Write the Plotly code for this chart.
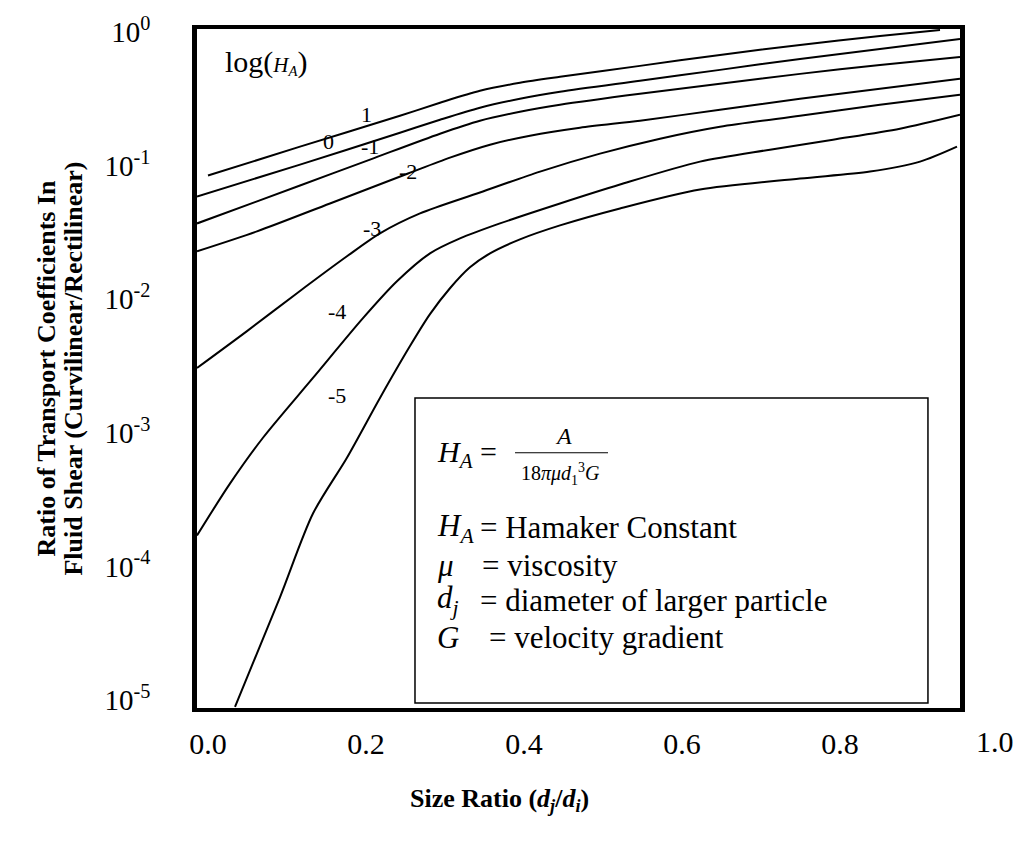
import plotly.graph_objects as go

# ---------------- data ----------------
x_ticks = [0.0, 0.2, 0.4, 0.6, 0.8]
x_tick_labels = ["0.0", "0.2", "0.4", "0.6", "0.8"]
y_ticks = [1, 1e-1, 1e-2, 1e-3, 1e-4, 1e-5]
y_tick_labels = ["10<sup>0</sup>", "10<sup>-1</sup>", "10<sup>-2</sup>",
                 "10<sup>-3</sup>", "10<sup>-4</sup>", "10<sup>-5</sup>"]

# log(H_A) = 1
x_p1 = [0.0, 0.1165, 0.2430, 0.2937, 0.3443, 0.3949, 0.4456, 0.5468, 0.6481, 0.7494, 0.8506, 0.9266]
y_p1 = [0.0842, 0.1386, 0.2361, 0.2952, 0.3628, 0.4164, 0.4615, 0.5576, 0.6737, 0.7997, 0.9336, 1.035]
# log(H_A) = 0
x_0 = [-0.0139, 0.1165, 0.2430, 0.2937, 0.3443, 0.3949, 0.4456, 0.5468, 0.6481, 0.7494, 0.8506, 0.9519]
y_0 = [0.0587, 0.1017, 0.1763, 0.2204, 0.2710, 0.3162, 0.3566, 0.4309, 0.5206, 0.6288, 0.7465, 0.8866]
# log(H_A) = -1
x_m1 = [-0.0139, 0.1165, 0.2051, 0.2937, 0.3443, 0.3949, 0.4456, 0.5468, 0.6481, 0.7494, 0.8506, 0.9519]
y_m1 = [0.0369, 0.0709, 0.1109, 0.1733, 0.2167, 0.2529, 0.2852, 0.3446, 0.4091, 0.4859, 0.5672, 0.6508]
# log(H_A) = -2
x_m2 = [-0.0139, 0.0620, 0.1544, 0.2532, 0.3063, 0.3570, 0.4076, 0.4709, 0.5468, 0.6481, 0.7494,
        0.8506, 0.9519]
y_m2 = [0.02282, 0.03217, 0.05205, 0.0872, 0.1147, 0.1434, 0.1674, 0.1921, 0.2167, 0.2618, 0.3162,
        0.3754, 0.4459]
# log(H_A) = -3
x_m3 = [-0.0139, 0.0494, 0.1127, 0.1759, 0.2177, 0.2684, 0.3443, 0.4203, 0.4962, 0.5722, 0.6481,
        0.7494, 0.8506, 0.9519]
y_m3 = [0.003055, 0.005770, 0.01109, 0.02094, 0.03109, 0.04384, 0.06288, 0.0902, 0.1229, 0.1591,
        0.1954, 0.2361, 0.2852, 0.3388]
# log(H_A) = -4
x_m4 = [-0.0139, 0.0278, 0.0696, 0.1329, 0.1962, 0.2392, 0.2810, 0.3190, 0.3696, 0.4456, 0.5215,
        0.6228, 0.7114, 0.7911, 0.8759, 0.9519]
y_m4 = [0.0001703, 0.0004164, 0.000918, 0.002573, 0.007213, 0.01362, 0.02204, 0.02852, 0.03692,
        0.05205, 0.07214, 0.1071, 0.1316, 0.1563, 0.1888, 0.2402]
# log(H_A) = -5
x_m5 = [0.0342, 0.0911, 0.1329, 0.1759, 0.2177, 0.2557, 0.2810, 0.3063, 0.3316, 0.3570, 0.3949,
        0.4456, 0.5215, 0.6228, 0.7494, 0.8380, 0.9013, 0.9481]
y_m5 = [8.87e-6, 5.87e-5, 0.0002486, 0.000651, 0.001824, 0.004459, 0.007728, 0.01208, 0.01733,
        0.02204, 0.02804, 0.03566, 0.04776, 0.06621, 0.07997, 0.0902, 0.1071, 0.1386]

curve_names = ["1", "0", "-1", "-2", "-3", "-4", "-5"]
curve_x = [x_p1, x_0, x_m1, x_m2, x_m3, x_m4, x_m5]
curve_y = [y_p1, y_0, y_m1, y_m2, y_m3, y_m4, y_m5]

SERIF = "Liberation Serif, Times New Roman, serif"

fig = go.Figure()
for name, xs, ys in zip(curve_names, curve_x, curve_y):
    fig.add_trace(go.Scatter(
        x=xs, y=ys, mode="lines", name=name,
        line=dict(color="black", width=2, shape="spline", smoothing=0.8),
        showlegend=False, hoverinfo="skip"))

annotations = []

def ann(text, x, y, size, xanchor="center", yanchor="middle", **kw):
    d = dict(text=text, x=x, y=y, xref="paper", yref="paper", showarrow=False,
             font=dict(family=SERIF, size=size, color="black"),
             xanchor=xanchor, yanchor=yanchor)
    d.update(kw)
    annotations.append(d)

# curve labels
ann("log(<span style='font-size:21px'><i>H<sub>A</sub></i></span>)", 0.090, 0.952, 30)
ann("1", 0.2228, 0.8737, 22)
ann("0", 0.1717, 0.8341, 22)
ann("-1", 0.2267, 0.8267, 22)
ann("-2", 0.2765, 0.790, 22)
ann("-3", 0.2294, 0.7063, 22)
ann("-4", 0.1835, 0.5844, 22)
ann("-5", 0.1835, 0.4596, 22)

# x tick label lying outside the frame
ann("1.0", 1.0459, -0.0499, 30)

# axis titles
ann("<b>Ratio of Transport Coefficients In</b>", -0.1979, 0.5, 26, textangle=-90)
ann("<b>Fluid Shear (Curvilinear/Rectilinear)</b>", -0.1625, 0.5, 26, textangle=-90)
ann("<b>Size Ratio (<i>d<sub>j</sub></i>/<i>d<sub>i</sub></i>)</b>", 0.397, -0.135, 26)

# legend box text
ann("<i>H<sub>A</sub></i> =", 0.312, 0.3744, 30, xanchor="left")
ann("<i>A</i>", 0.4797, 0.400, 24)
ann("18<i>πμd</i><sub>1</sub><sup>3</sup><i>G</i>", 0.4758, 0.345, 20)
ann("<i>H<sub>A</sub></i>", 0.312, 0.2658, 31, xanchor="left")
ann("= Hamaker Constant", 0.368, 0.2658, 31, xanchor="left")
ann("<i>μ</i>", 0.312, 0.210, 31, xanchor="left")
ann("= viscosity", 0.371, 0.210, 31, xanchor="left")
ann("<i>d<sub>j</sub></i>", 0.312, 0.1586, 31, xanchor="left")
ann("= diameter of larger particle", 0.368, 0.1586, 31, xanchor="left")
ann("<i>G</i>", 0.312, 0.1043, 31, xanchor="left")
ann("= velocity gradient", 0.380, 0.1043, 31, xanchor="left")

shapes = [
    dict(type="rect", xref="paper", yref="paper", x0=0.2857, x1=0.958, y0=0.0073, y1=0.4567,
         line=dict(color="black", width=1.5), fillcolor="rgba(0,0,0,0)"),
    dict(type="line", xref="paper", yref="paper", x0=0.4168, x1=0.5387, y0=0.3759, y1=0.3759,
         line=dict(color="black", width=1.2)),
]

fig.update_layout(
    width=1020, height=845,
    margin=dict(l=197, r=60, t=27, b=137),
    paper_bgcolor="white", plot_bgcolor="white",
    annotations=annotations, shapes=shapes,
    xaxis=dict(range=[-0.0139, 0.9519], tickvals=x_ticks, ticktext=x_tick_labels,
               showline=True, mirror=True, linewidth=3.5, linecolor="black",
               showgrid=False, zeroline=False, ticks="",
               tickfont=dict(family=SERIF, size=30, color="black"),
               ticklabelstandoff=6),
    yaxis=dict(type="log", range=[-5.06, 0.0224], tickvals=y_ticks, ticktext=y_tick_labels,
               showline=True, mirror=True, linewidth=4.5, linecolor="black",
               showgrid=False, zeroline=False, ticks="",
               tickfont=dict(family=SERIF, size=29, color="black"),
               ticklabelstandoff=36),
)

fig.write_html("out.html")
